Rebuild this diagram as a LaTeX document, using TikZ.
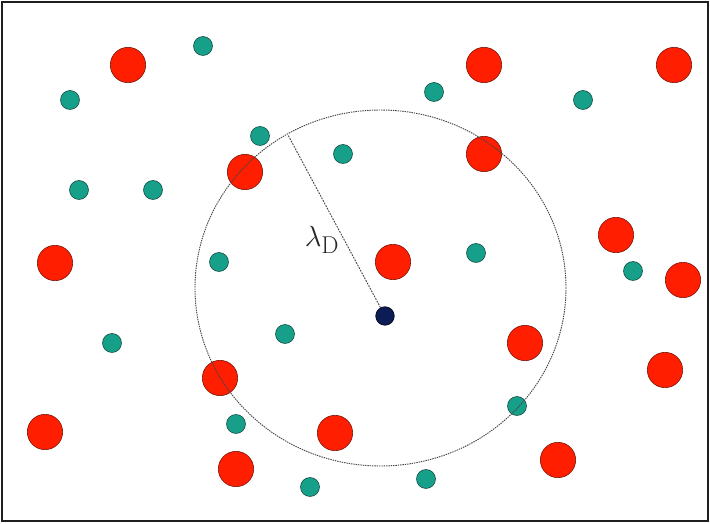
\documentclass[tikz,border=0pt]{standalone}
\usepackage{tikz}
\usetikzlibrary{shapes.geometric}
\definecolor{ink}{RGB}{40,40,40}
\definecolor{frame}{RGB}{30,30,30}
\definecolor{dash}{RGB}{70,70,70}
\definecolor{ion}{RGB}{255,30,0}
\definecolor{ionedge}{RGB}{120,20,10}
\definecolor{elec}{RGB}{22,160,138}
\definecolor{elecedge}{RGB}{15,70,60}
\definecolor{probe}{RGB}{12,28,85}
\tikzset{
  every picture/.style={color=ink, line width=0.5pt},
  ionball/.style={circle, draw=ionedge, fill=ion, line width=0.5pt, minimum size=10.6mm, inner sep=0pt},
  elecball/.style={circle, draw=elecedge, fill=elec, line width=0.5pt, minimum size=5.7mm, inner sep=0pt},
  probeball/.style={circle, draw=black, fill=probe, line width=0.4pt, minimum size=5.6mm, inner sep=0pt},
  sphere/.style={ellipse, draw=dash, line width=0.8pt, dash pattern=on 1.2pt off 0.8pt, inner sep=0pt},
  radius/.style={draw=dash, line width=0.8pt, dash pattern=on 1.5pt off 1pt},
  lbl/.style={font=\Huge, text=ink, inner sep=1pt},
}

\begin{document}
\begin{tikzpicture}[x=0.3mm, y=-0.3mm]
  \useasboundingbox (0,0) rectangle (710,524);
  \draw[frame, line width=0.7mm] (2,2) rectangle (708,521);
  % ions
  \foreach \x/\y [count=\i] in {128/65,484/65,674/65,245/172,484/154,55/263,393/262,616/235,683/280,525/343,220/378,665/370,45/432,335/433,236/469,558/460}
    \node[ionball] (i\i) at (\x,\y) {};
  % electrons
  \foreach \x/\y [count=\i] in {203/46,70/100,434/92,583/100,260/136,343/154,79/190,153/190,219/262,476/253,633/271,112/343,285/334,517/406,236/424,426/479,310/487}
    \node[elecball] (e\i) at (\x,\y) {};
  % test charge and debye sphere
  \node[probeball] (q) at (385,316) {};
  \node[sphere, minimum width=111.3mm, minimum height=106.8mm] (D) at (380.5,288) {};
  \coordinate (rim) at (288,135);
  \draw[radius] (q) -- (rim);
  \node[lbl] (lam) at (322,240) {$\lambda_{\mathrm{D}}$};
\end{tikzpicture}
\end{document}
